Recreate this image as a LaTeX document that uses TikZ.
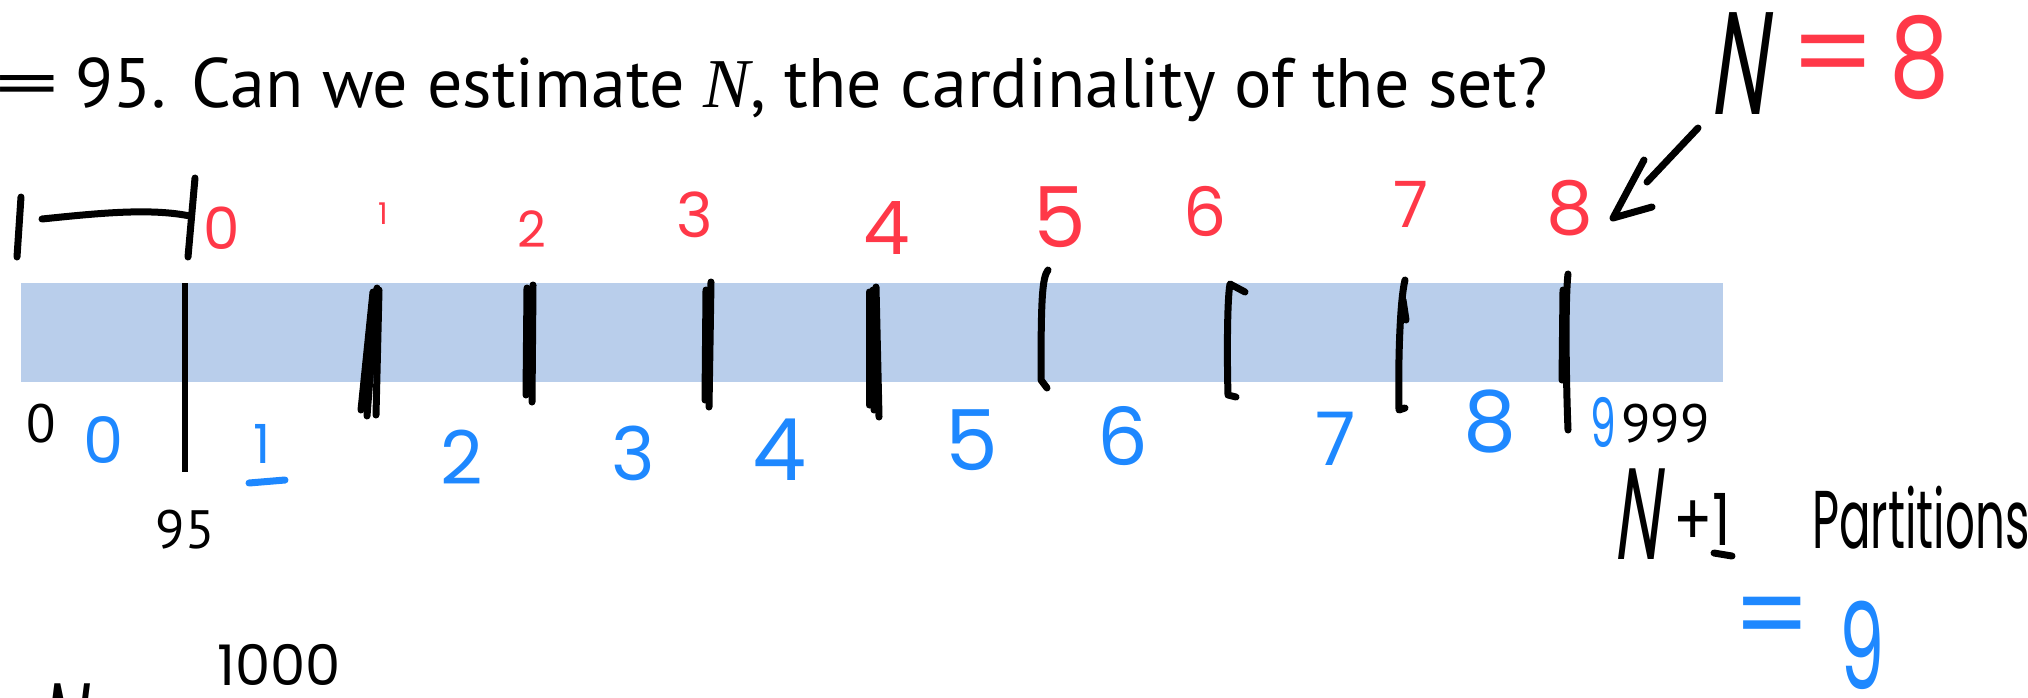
\documentclass[tikz,border=0pt]{standalone}
\usepackage{fontspec}
\setmainfont{PT Sans}
\newfontfamily\handfont{Poppins}
\newfontfamily\handslant[FakeSlant=0.25]{Poppins}
\newfontfamily\serfont{Liberation Serif}
\definecolor{hred}{RGB}{255,56,72}
\definecolor{hblue}{RGB}{30,136,255}
\definecolor{barblue}{RGB}{185,206,235}
\newcommand\hsz[1]{\handfont\fontsize{#1}{#1}\selectfont}
\newcommand\hsl[1]{\handslant\fontsize{#1}{#1}\selectfont}
\tikzset{
  rd/.style={text=hred, inner sep=0pt, font=\hsz{#1}}, rd/.default=64,
  bd/.style={text=hblue, inner sep=0pt, font=\hsz{#1}}, bd/.default=70,
  kd/.style={text=black, inner sep=0pt, font=\hsz{#1}}, kd/.default=64,
  ks/.style={text=black, inner sep=0pt, font=\hsl{#1}}, ks/.default=64,
  ink/.style={line width=7pt, line cap=round, line join=round},
  lab/.style={inner sep=0pt, font=\fontsize{54}{54}\selectfont},
  ttl/.style={inner sep=0pt, font=\fontsize{70}{70}\selectfont},
}
\begin{document}
\begin{tikzpicture}[x=1pt,y=-1pt]
\useasboundingbox (0,0) rectangle (2028,697);
\clip (0,0) rectangle (2028,697);
% title
\node[ttl, anchor=base east] (title) at (1548,107)
  {95. Can we estimate {\serfont\itshape N}, the cardinality of the set?};
\node[ttl, anchor=base east] (eqTitle) at ([xshift=-16pt]title.base west) {\scalebox{1.8}[1]{=}};
% bar
\node[fill=barblue, draw=none, minimum width=1702pt, minimum height=99pt, inner sep=0pt, anchor=north west] (bar) at (21,283) {};
% 95 line
\coordinate (m95top) at (185,283);
\coordinate (m95bot) at (185,472);
\draw[line width=5.5pt] (m95top) -- (m95bot);
% printed labels
\node[lab, anchor=base] (l0) at (41,442) {0};
\node[lab, anchor=base] (l95) at (185,548) {95};
\node[lab, anchor=base west] (l999) at (1621,442) {999};
% bracket
\draw[ink] (21,197) -- (17,257);
\draw[ink] (42,219) .. controls (100,213) and (150,208) .. (190,216);
\draw[ink] (195,178) -- (188,257);
% handwritten ticks
\draw[ink] (377,288) -- (367,416);
\draw[ink] (373,292) -- (361,410);
\draw[ink] (379,290) -- (376,415);
\draw[ink] (533,285) -- (532,402);
\draw[ink] (527,288) -- (526,395);
\draw[ink] (711,282) -- (709,407);
\draw[ink] (706,290) -- (705,400);
\draw[ink] (876,287) -- (879,417);
\draw[ink] (869,292) -- (869,405);
\draw[ink] (873,290) -- (874,410);
\draw[ink] (1048,270) .. controls (1042,278) and (1041,300) .. (1041,380) -- (1047,388);
\draw[ink] (1245,292) -- (1230,284) .. controls (1227,300) and (1227,360) .. (1228,395) -- (1236,397);
\draw[ink] (1405,280) .. controls (1400,300) and (1398,360) .. (1399,410) -- (1405,408);
\draw[ink] (1403,300) -- (1406,320);
\draw[ink] (1568,274) .. controls (1565,300) and (1566,380) .. (1568,430);
\draw[ink] (1563,290) -- (1562,380);
% red digits
\node[rd=58] (r0) at (222,228) {0};
\node[rd=30] (r1) at (383,214) {1};
\node[rd=50] (r2) at (532,229) {2};
\node[rd=62] (r3) at (695,215) {3};
\node[rd=74] (r4) at (887,228) {4};
\node[rd=84] (r5) at (1060,217) {5};
\node[rd=68] (r6) at (1205,211) {6};
\node[rd=64] (r7) at (1411,204) {7};
\node[rd=74] (r8) at (1570,208) {8};
% blue digits
\node[bd=64] (b0) at (104,440) {0};
\node[bd=54] (b1) at (262,444) {1};
\draw[ink, hblue] (249,483) -- (285,480);
\node[bd=74] (b2) at (462,457) {2};
\node[bd=74] (b3) at (633,453) {3};
\node[bd=86] (b4) at (780,450) {4};
\node[bd=84] (b5) at (972,440) {5};
\node[bd=80] (b6) at (1123,436) {6};
\node[bd=74] (b7) at (1336,439) {7};
\node[bd=84] (b8) at (1490,422) {8};
\node[bd=68] (b9) at (1603,422) {\scalebox{0.6}[1]{9}};
% N = 8 with arrow
\node[ks=146] (nTop) at (1738,64) {\scalebox{0.55}[1]{N}};
\node[rd=110] (eqTop) at (1833,63) {\scalebox{1.1}[1]{=}};
\node[rd=112] (eightTop) at (1920,58) {\scalebox{0.85}[1]{8}};
\coordinate (arrS) at (1698,128);
\coordinate (arrE) at (1647,182);
\coordinate (tip) at (1613,218);
\draw[ink] (arrS) -- (arrE);
\draw[ink] (1644,160) -- (tip) -- (1652,207);
% N+1 Partitions = 9
\node[ks=130] (nPart) at (1636,514) {\scalebox{0.5}[1]{N}};
\node[kd=72, anchor=base] (plusone) at (1702,545) {\scalebox{0.8}[1]{+1}};
\draw[ink] (1714,553) -- (1732,556);
\node[kd=82, anchor=base west] (parts) at (1812,548) {\scalebox{0.57}[1]{Partitions}};
\node[bd=110] (eqB) at (1772,625) {=};
\node[bd=120] (nineB) at (1862,645) {\scalebox{0.6}[1]{9}};
% bottom
\node[kd=56] (thousand) at (279,665) {1000};
\node[ks=130, anchor=north west] (nBot) at (38,684) {\scalebox{0.5}[1]{N}};
\end{tikzpicture}
\end{document}
